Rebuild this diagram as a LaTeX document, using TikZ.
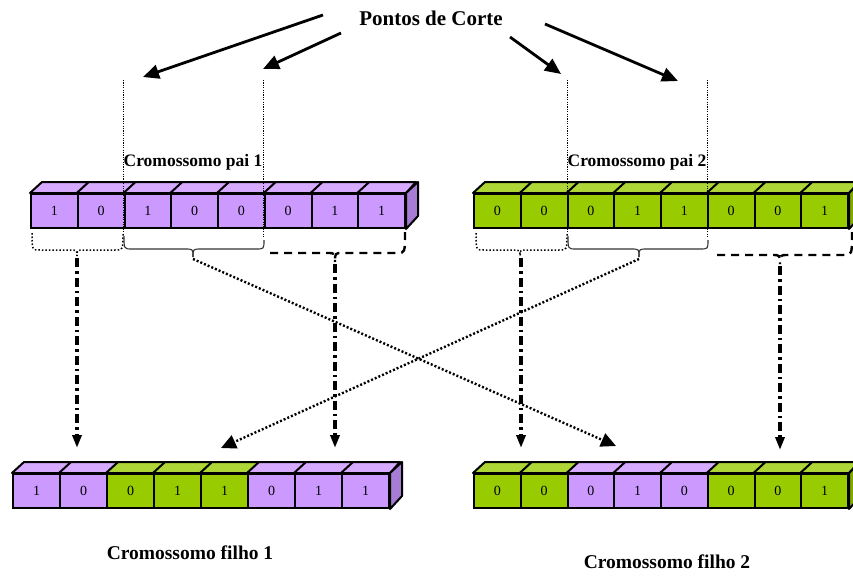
\documentclass[tikz,border=0pt]{standalone}
\usepackage{fontspec}
\setmainfont{Liberation Serif}
\usetikzlibrary{arrows.meta,calc}

% cube colours: front, top and side faces
\definecolor{pfront}{HTML}{CC99FF}
\definecolor{ptop}{HTML}{D6AAFF}
\definecolor{pside}{HTML}{A67CD4}
\definecolor{gfront}{HTML}{99CC00}
\definecolor{gtop}{HTML}{AED636}
\definecolor{gside}{HTML}{7FAA00}

\tikzset{
  cell/.style={draw=black, line width=2pt, minimum height=34pt, inner sep=0pt,
    anchor=north west, font=\fontsize{14}{14}\selectfont},
  edge/.style={draw=black, line width=2pt, line join=round},
  cutline/.style={line width=0.8pt, dash pattern=on 1.2pt off 1.2pt},
  dotbrace/.style={line width=1.5pt, dash pattern=on 1.5pt off 2pt},
  solidbrace/.style={line width=1.1pt, draw=black!80},
  dashbrace/.style={line width=2.4pt, dash pattern=on 8pt off 6pt},
  dashdot/.style={line width=3.3pt, dash pattern=on 9pt off 4pt on 2.5pt off 4pt,
    -{Triangle[length=13pt,width=9pt]}},
  crossarrow/.style={line width=2.4pt, dash pattern=on 2pt off 2pt,
    -{Triangle[length=15pt,width=14pt]}},
  toparrow/.style={line width=2.8pt, -{Triangle[length=16pt,width=14pt]}},
  title/.style={font=\bfseries\fontsize{21}{21}\selectfont},
  label/.style={font=\bfseries\fontsize{17.5}{17.5}\selectfont},
  childlabel/.style={font=\bfseries\fontsize{19.5}{19.5}\selectfont},
}

% #1 name prefix, #2 x, #3 y of front top edge, #4 cell width, #5 list colour/digit
\newcommand\chromo[5]{%
  \foreach [count=\i] \col/\dig in {#5} {
    \node[cell, fill=\col front, minimum width=#4pt] (#1\i) at ({#2+(\i-1)*#4},#3) {\dig};
    \draw[edge, fill=\col top] (#1\i.north west) -- ++(12,-11) -- ++(#4,0)
      -- (#1\i.north east) -- cycle;
    \ifnum\i=8
      \draw[edge, fill=\col side] (#1\i.north east) -- ++(12,-11) -- ++(0,34)
        -- (#1\i.south east) -- cycle;
    \fi
  }%
}

% half-brace pieces: #1 style, #2 x end, #3 y end, #4 y line, #5 x tip, #6 y tip
\newcommand\bracehalf[6]{%
  \draw[#1] (#2,#3) .. controls (#2,#4) .. ($(#2,#4)!8pt!(#5,#4)$)
    -- ($(#5,#4)!8pt!(#2,#4)$) .. controls (#5,#4) .. (#5,#6);
}

\begin{document}
\begin{tikzpicture}[x=1pt,y=-1pt]
\clip (0,0) rectangle (853,575);
\fill[white] (0,0) rectangle (853,575);

% parent chromosomes
\chromo{pa}{30}{193}{46.75}{p/1,p/0,p/1,p/0,p/0,p/0,p/1,p/1}
\chromo{pb}{473}{193}{46.75}{g/0,g/0,g/0,g/1,g/1,g/0,g/0,g/1}

% offspring chromosomes
\chromo{fa}{12}{473}{47}{p/1,p/0,g/0,g/1,g/1,p/0,p/1,p/1}
\chromo{fb}{473}{473}{46.75}{g/0,g/0,p/0,p/1,p/0,g/0,g/0,g/1}

% labels
\node[title] (pc) at (431,18) {Pontos de Corte};
\node[label] (la) at (193,162) {Cromossomo pai 1};
\node[label] (lb) at (637,162) {Cromossomo pai 2};
\node[childlabel] (lc) at (190,553) {Cromossomo filho 1};
\node[childlabel] (ld) at (667,562) {Cromossomo filho 2};

% cut points
\coordinate (k1) at (123,80);  \coordinate (k1b) at (123,234);
\coordinate (k2) at (263,80);  \coordinate (k2b) at (263,238);
\coordinate (k3) at (567,80);  \coordinate (k3b) at (567,234);
\coordinate (k4) at (707,80);  \coordinate (k4b) at (707,238);
\foreach \a in {1,...,4} \draw[cutline] (k\a) -- (k\a b);

% braces under parent 1
\bracehalf{dotbrace}{32}{233}{250}{77}{256}
\bracehalf{dotbrace}{123}{234}{250}{77}{256}
\bracehalf{solidbrace}{124}{236}{249}{193}{257}
\bracehalf{solidbrace}{264}{240}{249}{193}{257}
\draw[dashbrace] (270,253) -- (327,253) .. controls (335,253) .. (335,262);
\bracehalf{dashbrace}{405}{232}{253}{335}{262}

% braces under parent 2
\bracehalf{dotbrace}{476}{233}{250}{520}{256}
\bracehalf{dotbrace}{567}{234}{250}{520}{256}
\bracehalf{solidbrace}{568}{236}{249}{639}{257}
\bracehalf{solidbrace}{708}{240}{249}{639}{257}
\draw[dashbrace] (717,255) -- (772,255) .. controls (780,255) .. (780,264);
\bracehalf{dashbrace}{852}{232}{255}{780}{264}

% brace tips and arrow targets
\coordinate (t1) at (77,258);   \coordinate (e1) at (77,448);
\coordinate (t2) at (335,264);  \coordinate (e2) at (335,448);
\coordinate (t3) at (521,258);  \coordinate (e3) at (521,448);
\coordinate (t4) at (780,266);  \coordinate (e4) at (780,450);
\coordinate (m1) at (193,259);  \coordinate (x1) at (616,446);
\coordinate (m2) at (639,259);  \coordinate (x2) at (221,448);

% straight transfers
\foreach \a in {1,...,4} \draw[dashdot] (t\a) -- (e\a);

% crossed transfers
\draw[crossarrow] (m1) -- (x1);
\draw[crossarrow] (m2) -- (x2);

% arrows from the title to the cut points
\coordinate (a1) at (323,15);  \coordinate (b1) at (143,77);
\coordinate (a2) at (341,33);  \coordinate (b2) at (263,69);
\coordinate (a3) at (510,37);  \coordinate (b3) at (561,74);
\coordinate (a4) at (545,24);  \coordinate (b4) at (678,81);
\foreach \a in {1,...,4} \draw[toparrow] (a\a) -- (b\a);
\end{tikzpicture}
\end{document}
